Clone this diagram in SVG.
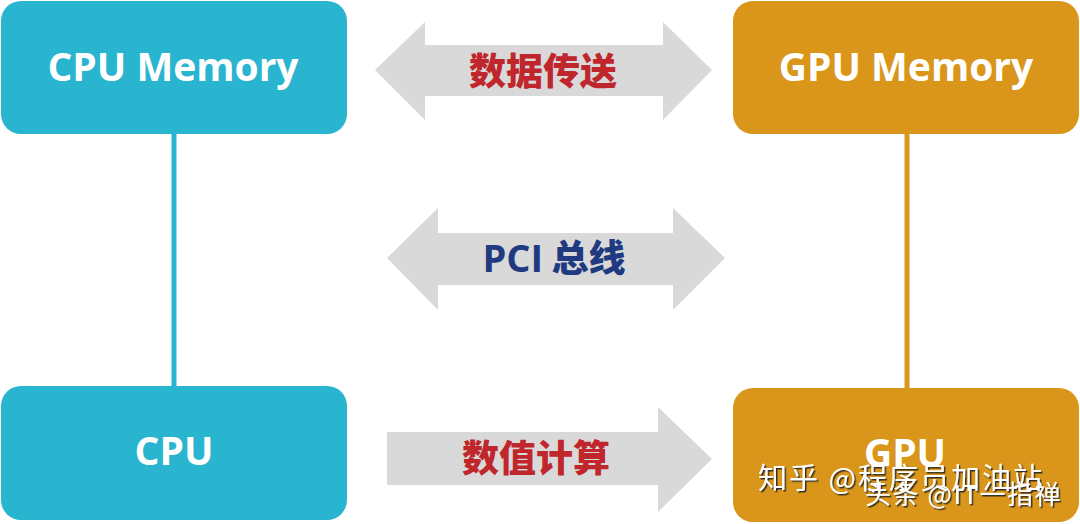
<svg xmlns="http://www.w3.org/2000/svg" width="1080" height="524" viewBox="0 0 1080 524">
<style>
.cpu{fill:#29b4cf}
.gpu{fill:#d9961a}
.arrow{fill:#d9d9d9}
.lbl{font-family:"Open Sans","Noto Sans CJK SC",sans-serif;font-weight:bold;fill:#fff;text-anchor:middle}
.cn{font-family:"Noto Sans CJK SC",sans-serif;font-weight:900;text-anchor:middle}
.wm{font-family:"Noto Sans CJK SC",sans-serif;fill:#fff;stroke:none}
</style>
<defs>
<filter id="sh" x="-10%" y="-30%" width="120%" height="160%">
<feDropShadow dx="1.5" dy="1.5" stdDeviation="0.6" flood-color="#222" flood-opacity="0.9"/>
</filter>
</defs>
<rect width="1080" height="524" fill="#fff"/>
<g id="connectors">
<line x1="174" y1="130" x2="174" y2="390" stroke="#29b4cf" stroke-width="5"/>
<line x1="907" y1="130" x2="907" y2="392" stroke="#d9961a" stroke-width="5"/>
<polygon id="arrow-transfer" class="arrow" points="375,70 425,22 425,45 663,45 663,22 712,70 663,120 663,96 425,96 425,120"/>
<polygon id="arrow-pci" class="arrow" points="387,258 438,208 438,233 673,233 673,208 725,258 673,310 673,285 438,285 438,310"/>
<polygon id="arrow-compute" class="arrow" points="387,432 658,432 658,407 712,459 658,512 658,485 387,485"/>
<text class="cn" x="543" y="85" font-size="37" fill="#c0272d">数据传送</text>
<text class="cn" x="554" y="272" font-size="37" fill="#1f3a80"><tspan font-family="'Open Sans',sans-serif" font-weight="bold" font-size="38">PCI</tspan> 总线</text>
<text class="cn" x="536" y="472" font-size="37" fill="#c0272d">数值计算</text>
</g>
<g id="cpu-memory">
<rect class="cpu" x="1" y="1" width="346" height="133" rx="20"/>
<text class="lbl" x="173" y="81" font-size="39">CPU Memory</text>
</g>
<g id="gpu-memory">
<rect class="gpu" x="733" y="1" width="346" height="133" rx="20"/>
<text class="lbl" x="906" y="81" font-size="39">GPU Memory</text>
</g>
<g id="cpu">
<rect class="cpu" x="1" y="386" width="346" height="134" rx="20"/>
<text class="lbl" x="174" y="465" font-size="39">CPU</text>
</g>
<g id="gpu">
<rect class="gpu" x="733" y="388" width="346" height="134" rx="20"/>
<text class="lbl" x="905" y="467" font-size="39">GPU</text>
</g>
<g id="watermark" filter="url(#sh)">
<text class="wm" x="758" y="489" font-size="29" letter-spacing="2">知乎 @程序员加油站</text>
<text class="wm" x="865" y="504" font-size="26" letter-spacing="1.5">头条 @IT一指禅</text>
</g>
</svg>
